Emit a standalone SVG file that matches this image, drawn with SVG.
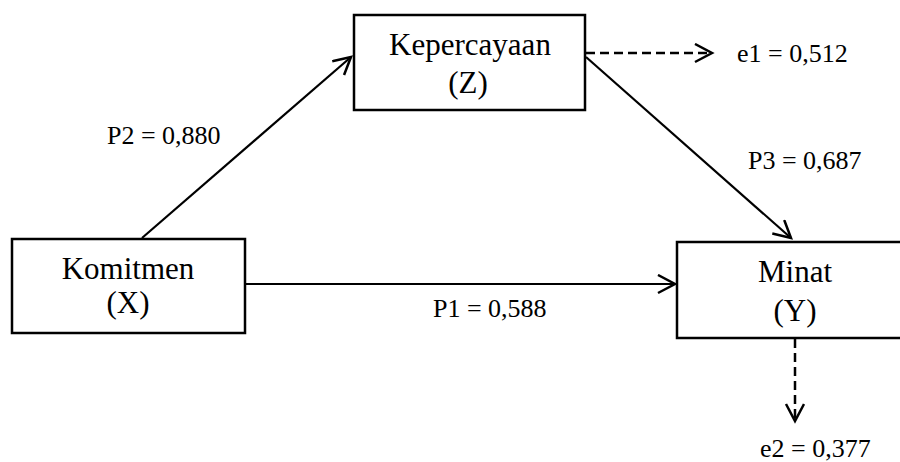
<svg xmlns="http://www.w3.org/2000/svg" width="900" height="462" viewBox="0 0 900 462">
<style>
.box{fill:#fff;stroke:#000;stroke-width:2.5}
.t{font-family:"Liberation Serif","Times New Roman",serif;fill:#000}
.n{font-size:31px;text-anchor:middle}
.l{font-size:26px}
.c{fill:none;stroke:#000;stroke-width:2.2}
.d{stroke-dasharray:9 5;stroke-width:2.5}
</style>
<defs>
<marker id="ah" markerWidth="22" markerHeight="22" refX="18" refY="10" orient="auto" markerUnits="userSpaceOnUse">
<path d="M1,1 L18,10 L1,19" fill="none" stroke="#000" stroke-width="2.5"/>
</marker>
</defs>
<rect width="900" height="462" fill="#fff"/>
<g id="connectors">
<line class="c" x1="142" y1="238" x2="351" y2="57" marker-end="url(#ah)"/>
<line class="c" x1="586" y1="57" x2="791" y2="238" marker-end="url(#ah)"/>
<line class="c" x1="245" y1="284" x2="675" y2="284" marker-end="url(#ah)"/>
<line class="c d" x1="586" y1="53" x2="712" y2="53" marker-end="url(#ah)"/>
<line class="c d" x1="795" y1="339" x2="795" y2="421" marker-end="url(#ah)"/>
</g>
<g id="nodeZ">
<rect class="box" x="354" y="15" width="231" height="95"/>
<text class="t n" x="470" y="55">Kepercayaan</text>
<text class="t n" x="468" y="93">(Z)</text>
</g>
<g id="nodeX">
<rect class="box" x="12" y="239" width="233" height="94"/>
<text class="t n" x="128" y="279">Komitmen</text>
<text class="t n" x="128" y="313">(X)</text>
</g>
<g id="nodeY">
<rect class="box" x="677" y="242" width="240" height="96"/>
<text class="t n" x="795" y="282">Minat</text>
<text class="t n" x="795" y="321">(Y)</text>
</g>
<g id="labels">
<text class="t l" x="107" y="144">P2 = 0,880</text>
<text class="t l" x="748" y="169">P3 = 0,687</text>
<text class="t l" x="433" y="317">P1 = 0,588</text>
<text class="t l" x="737" y="62">e1 = 0,512</text>
<text class="t l" x="760" y="457">e2 = 0,377</text>
</g>
</svg>
